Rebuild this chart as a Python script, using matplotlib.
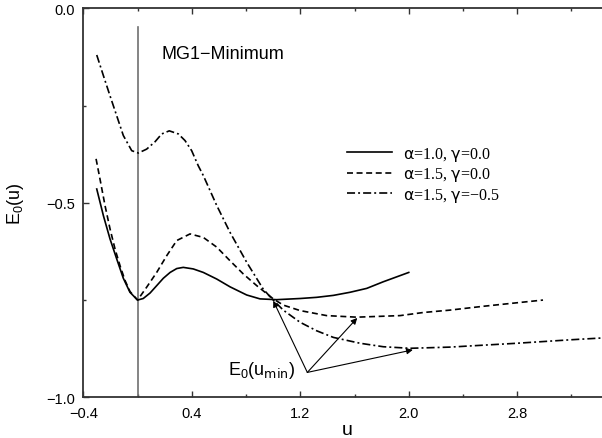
import matplotlib
matplotlib.use("Agg")
import matplotlib.pyplot as plt

plt.rcParams["font.family"] = ["Liberation Sans", "DejaVu Sans"]
plt.rcParams["mathtext.default"] = "regular"
plt.rcParams["lines.scale_dashes"] = False

# alpha=1.0, gamma=0.0
u_a = [-0.301, -0.252, -0.203, -0.154, -0.105, -0.056, 0.0, 0.042, 0.092, 0.141, 0.19,
       0.24, 0.289, 0.337, 0.411, 0.485, 0.584, 0.682, 0.805, 0.903, 1.026, 1.2, 1.321,
       1.444, 1.567, 1.69, 1.812, 2.0]
E_a = [-0.4645, -0.533, -0.593, -0.644, -0.694, -0.730, -0.750, -0.746, -0.732, -0.713,
       -0.694, -0.679, -0.669, -0.666, -0.670, -0.679, -0.696, -0.716, -0.737, -0.747,
       -0.749, -0.746, -0.743, -0.738, -0.730, -0.720, -0.703, -0.679]

# alpha=1.5, gamma=0.0
u_b = [-0.306, -0.277, -0.240, -0.203, -0.166, -0.129, -0.092, -0.056, 0.0, 0.067, 0.141,
       0.215, 0.289, 0.387, 0.485, 0.584, 0.682, 0.78, 0.879, 1.001, 1.075, 1.198, 1.395,
       1.616, 1.936, 2.107, 2.30, 2.55, 2.99]
E_b = [-0.387, -0.439, -0.507, -0.567, -0.619, -0.662, -0.700, -0.728, -0.750, -0.717,
       -0.679, -0.636, -0.597, -0.580, -0.589, -0.614, -0.649, -0.683, -0.713, -0.747,
       -0.763, -0.777, -0.790, -0.794, -0.790, -0.782, -0.776, -0.766, -0.750]

# alpha=1.5, gamma=-0.5
u_c = [-0.301, -0.252, -0.203, -0.154, -0.105, -0.043, 0.006, 0.067, 0.129, 0.178, 0.234,
       0.301, 0.35, 0.399, 0.448, 0.485, 0.584, 0.682, 0.805, 0.927, 1.0, 1.075, 1.198,
       1.321, 1.444, 1.64, 1.812, 2.01, 2.30, 2.80, 3.20, 3.60]
E_c = [-0.120, -0.173, -0.225, -0.276, -0.327, -0.366, -0.372, -0.362, -0.343, -0.323,
       -0.315, -0.323, -0.340, -0.366, -0.405, -0.430, -0.507, -0.576, -0.653, -0.722,
       -0.750, -0.776, -0.807, -0.829, -0.846, -0.861, -0.870, -0.874, -0.871, -0.861,
       -0.852, -0.844]

labels = [r"$\mathrm{\alpha}$=1.0, $\mathrm{\gamma}$=0.0",
          r"$\mathrm{\alpha}$=1.5, $\mathrm{\gamma}$=0.0",
          r"$\mathrm{\alpha}$=1.5, $\mathrm{\gamma}$=$-$0.5"]

mg1_u = 0.0
mg1_top = -0.049

# arrows: E0(u_min) -> minima
arrow_from = (1.252, -0.936)
arrow_to = [(1.001, -0.752), (1.62, -0.796), (2.03, -0.878)]

xticks_major = [-0.4, 0.4, 1.2, 2.0, 2.8]
xticks_minor = [0.0, 0.8, 1.6, 2.4, 3.2]
xlabels = ["\u22120.4", "0.4", "1.2", "2.0", "2.8"]
yticks_major = [-1.0, -0.5, 0.0]
yticks_minor = [-0.75, -0.25]
ylabels = ["\u22121.0", "\u22120.5", "0.0"]

fig = plt.figure(figsize=(6.02, 4.39), dpi=100)
ax = fig.add_axes([0.1384, 0.0927, 0.9010, 0.8861])

ax.plot([mg1_u, mg1_u], [-1.0, mg1_top], color="#707070", lw=1.2)
ax.plot(u_a, E_a, color="k", lw=1.2, label=labels[0])
ax.plot(u_b, E_b, color="k", lw=1.2, linestyle=(0, (4.3, 2.6)), label=labels[1])
ax.plot(u_c, E_c, color="k", lw=1.2, linestyle=(0, (5.8, 2.2, 1.4, 2.2)), label=labels[2])

for tgt in arrow_to:
    ax.annotate("", xy=tgt, xytext=arrow_from,
                arrowprops=dict(arrowstyle="-|>", lw=0.8, color="k",
                                mutation_scale=9, shrinkA=0, shrinkB=0))

ax.text(1.16, -0.928, r"E$_0$(u$_{\rm min}$)", ha="right", va="center", fontsize=13)
ax.text(0.173, -0.115, "MG1\u2212Minimum", ha="left", va="center", fontsize=13)

ax.set_xlim(-0.4, 3.6)
ax.set_ylim(-1.0, 0.0)
ax.set_xticks(xticks_major)
ax.set_xticklabels(xlabels)
ax.set_xticks(xticks_minor, minor=True)
ax.set_yticks(yticks_major)
ax.set_yticklabels(ylabels)
ax.set_yticks(yticks_minor, minor=True)
ax.tick_params(which="both", direction="in", top=True, right=False, labelsize=10.5,
               color="#333333", width=1.0)
ax.tick_params(which="major", length=4, pad=6)
ax.tick_params(which="minor", length=2.5)
for s in ["left", "bottom", "top"]:
    ax.spines[s].set_linewidth(1.3)
    ax.spines[s].set_color("#333333")
ax.spines["right"].set_visible(False)

ax.set_xlabel("u", fontsize=14)
ax.xaxis.set_label_coords(0.486, -0.06)
ax.set_ylabel(r"E$_0$(u)", fontsize=13)
ax.yaxis.set_label_coords(-0.105, 0.5)

leg = ax.legend(loc="upper left", bbox_to_anchor=(347 / 602, 1 - 146 / 439),
                bbox_transform=fig.transFigure, frameon=False,
                prop={"family": "Liberation Serif", "size": 11.5},
                handlelength=2.8, handletextpad=0.7, labelspacing=0.15,
                borderpad=0, borderaxespad=0)

plt.savefig("out.png", dpi=100)
